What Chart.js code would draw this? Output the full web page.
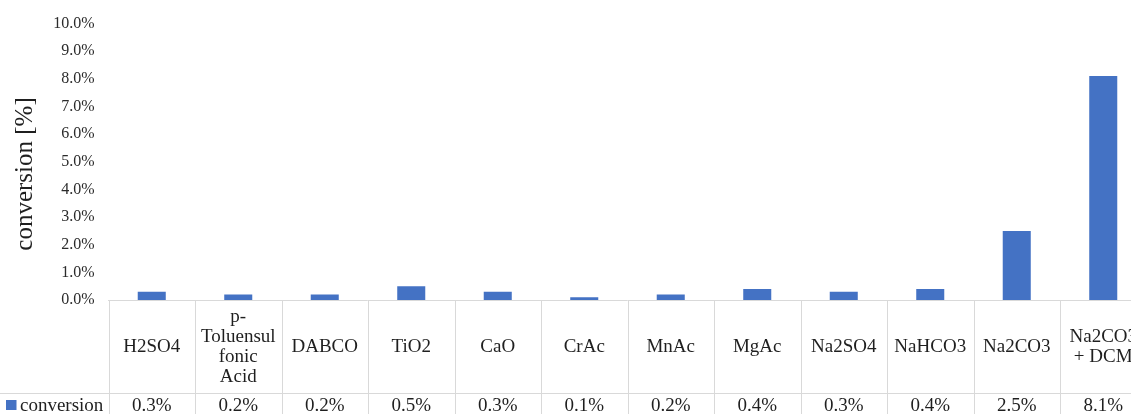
<!DOCTYPE html>
<html>
<head>
<meta charset="utf-8">
<title>conversion</title>
<script src="https://cdn.jsdelivr.net/npm/chart.js@4.4.1/dist/chart.umd.min.js"></script>
<style>
  html, body { margin: 0; padding: 0; background: #ffffff; overflow: hidden; }
  #wrap { width: 1160px; height: 420px; position: relative; }
</style>
</head>
<body>
<div id="wrap"><canvas id="chart" width="1160" height="420"></canvas></div>
<script>
// Catalysts (multi-line where the table cell wraps)
const categories = [
  ['H2SO4'],
  ['p-', 'Toluensul', 'fonic', 'Acid'],
  ['DABCO'],
  ['TiO2'],
  ['CaO'],
  ['CrAc'],
  ['MnAc'],
  ['MgAc'],
  ['Na2SO4'],
  ['NaHCO3'],
  ['Na2CO3'],
  ['Na2CO3', '+ DCM']
];
const seriesName = 'conversion';
// conversion in percent
const conversion = [0.3, 0.2, 0.2, 0.5, 0.3, 0.1, 0.2, 0.4, 0.3, 0.4, 2.5, 8.1];
const yTicks = [0, 1, 2, 3, 4, 5, 6, 7, 8, 9, 10];
const axisTitle = 'conversion [%]';

const SERIF = "'Liberation Serif', 'Times New Roman', serif";
const BAR_COLOR = '#4472C4';
const LINE_COLOR = '#d9d9d9';
const TEXT_COLOR = '#1f1f1f';

const fmt = v => v.toFixed(1) + '%';

// Data table under the plot: category row, value row with legend key
const dataTable = {
  id: 'dataTable',
  afterDraw(chart) {
    const ctx = chart.ctx;
    const xs = chart.scales.x;
    const area = chart.chartArea;
    const n = categories.length;
    const cw = xs.getPixelForValue(1) - xs.getPixelForValue(0);
    const bottom = chart.height;
    const rowY = 393;
    ctx.save();
    ctx.strokeStyle = LINE_COLOR;
    ctx.lineWidth = 1;
    ctx.beginPath();
    for (let i = 0; i <= n; i++) {
      const bx = Math.round(xs.getPixelForValue(i) - cw / 2) + 0.5;
      ctx.moveTo(bx, area.bottom);
      ctx.lineTo(bx, bottom);
    }
    ctx.moveTo(0, rowY + 0.5);
    ctx.lineTo(chart.width, rowY + 0.5);
    ctx.stroke();

    ctx.fillStyle = TEXT_COLOR;
    ctx.font = '19px ' + SERIF;
    ctx.textAlign = 'center';
    ctx.textBaseline = 'middle';
    const lineH = 20;
    const cellMid = (area.bottom + rowY) / 2 + 1;
    categories.forEach((lines, i) => {
      const cx = xs.getPixelForValue(i);
      const y0 = cellMid - (lines.length - 1) * lineH / 2;
      lines.forEach((t, k) => ctx.fillText(t, cx, y0 + k * lineH));
      ctx.fillText(fmt(conversion[i]), cx, 406);
    });

    // legend key + series name
    ctx.fillStyle = BAR_COLOR;
    ctx.fillRect(6, 400, 10.5, 10);
    ctx.fillStyle = TEXT_COLOR;
    ctx.textAlign = 'left';
    ctx.fillText(seriesName, 20, 406);

    // value axis title
    ctx.save();
    ctx.translate(25, 174);
    ctx.rotate(-Math.PI / 2);
    ctx.textAlign = 'center';
    ctx.font = '25px ' + SERIF;
    ctx.fillText(axisTitle, 0, 0);
    ctx.restore();
    ctx.restore();
  }
};

new Chart(document.getElementById('chart'), {
  type: 'bar',
  data: {
    labels: categories,
    datasets: [{
      label: seriesName,
      data: conversion,
      backgroundColor: BAR_COLOR,
      borderWidth: 0,
      barPercentage: 0.324,
      categoryPercentage: 1
    }]
  },
  options: {
    responsive: false,
    animation: false,
    devicePixelRatio: 1,
    layout: { padding: { left: 0, right: 13.5, top: 23.5, bottom: 120 } },
    plugins: {
      legend: { display: false },
      tooltip: { enabled: false }
    },
    scales: {
      x: {
        grid: { display: false, drawTicks: false },
        ticks: { display: false },
        border: { display: true, color: LINE_COLOR, width: 1 },
        afterFit(scale) { scale.height = 0; }
      },
      y: {
        min: yTicks[0],
        max: yTicks[yTicks.length - 1],
        afterBuildTicks(scale) { scale.ticks = yTicks.map(v => ({ value: v })); },
        grid: { display: false, drawTicks: false },
        border: { display: false },
        ticks: {
          padding: 14,
          color: '#2b2b2b',
          font: { family: SERIF, size: 16 },
          callback: v => fmt(v)
        },
        afterFit(scale) { scale.width = 108.5; }
      }
    }
  },
  plugins: [dataTable]
});
</script>
</body>
</html>
